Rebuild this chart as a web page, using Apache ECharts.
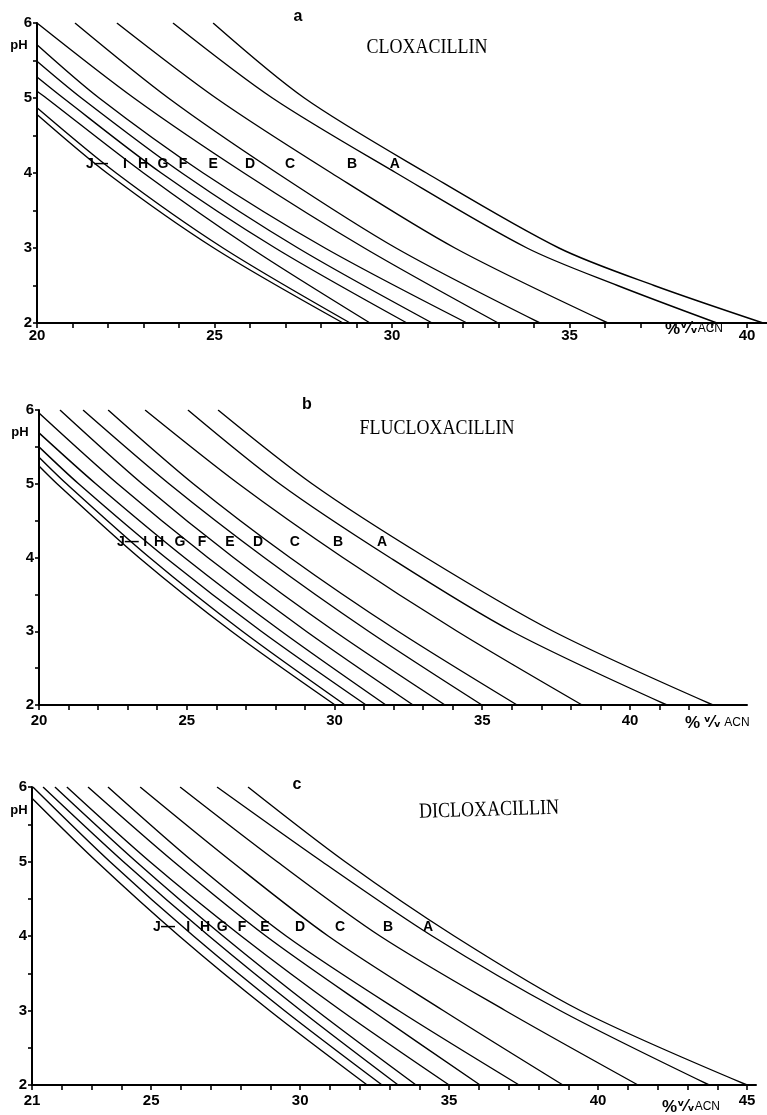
<!DOCTYPE html>
<html><head><meta charset="utf-8">
<script src="https://cdn.jsdelivr.net/npm/echarts@6/dist/echarts.min.js"></script>
<style>html,body{margin:0;padding:0;background:#fff}#c{width:767px;height:1115px}</style>
</head><body><div id="c"></div><script>
// ---------- data ----------
const curveLetters = ['J\u2014','I','H','G','F','E','D','C','B','A'];
const pHTicks = [2,2.5,3,3.5,4,4.5,5,5.5,6];
const pHLabels = [2,3,4,5,6];

// panel a : CLOXACILLIN
const cloxXTicks = [20,21,22,23,24,25,26,27,28,29,30,31,32,33,34,35,36,37,38,39,40];
const cloxXLabels = [20,25,30,35,40];
const cloxCurves = [
  [[20,4.78],[21.97,4],[24.98,3],[28.62,2]],
  [[20,4.87],[22.23,4],[25.24,3],[28.82,2]],
  [[20,5.09],[20.26,5],[23.0,4],[26.02,3],[29.38,2]],
  [[20,5.28],[20.74,5],[23.5,4],[26.71,3],[30.42,2]],
  [[20,5.49],[21.25,5],[24.08,4],[27.35,3],[31.13,2]],
  [[20,5.71],[21.75,5],[24.68,4],[28.11,3],[32.11,2]],
  [[20,6.0],[22.73,5],[25.83,4],[29.22,3],[32.99,2]],
  [[21.07,6],[23.70,5],[26.76,4],[30.11,3],[34.17,2]],
  [[22.25,6],[25.04,5],[28.29,4],[31.77,3],[36.08,2]],
  [[23.83,6],[26.63,5],[30.12,4],[33.8,3],[36.35,2.5],[39.15,2]],
  [[24.96,6],[27.53,5],[30.97,4],[34.7,3],[37.38,2.5],[40.45,2]]
];
const cloxLabelX = [21.69,22.48,22.99,23.55,24.11,24.96,26.0,27.13,28.87,30.08];
const cloxLabelPH = 4.12;

// panel b : FLUCLOXACILLIN
const fluXTicks = [20,21,22,23,24,25,26,27,28,29,30,31,32,33,34,35,36,37,38,39,40,41,42];
const fluXLabels = [20,25,30,35,40];
const fluCurves = [
  [[20,5.24],[20.61,5],[23.38,4],[26.51,3],[30.02,2]],
  [[20,5.36],[20.93,5],[23.74,4],[26.88,3],[30.36,2]],
  [[20,5.5],[21.34,5],[24.28,4],[27.52,3],[31.07,2]],
  [[20,5.69],[21.92,5],[24.92,4],[28.2,3],[31.74,2]],
  [[20,5.96],[22.66,5],[25.71,4],[29.04,3],[32.66,2]],
  [[20.71,6],[23.49,5],[26.58,4],[30.0,3],[33.74,2]],
  [[21.49,6],[24.40,5],[27.62,4],[31.15,3],[34.99,2]],
  [[22.34,6],[25.22,5],[28.49,4],[32.15,3],[36.18,2]],
  [[23.59,6],[26.75,5],[30.28,4],[34.15,3],[38.38,2]],
  [[25.04,6],[28.14,5],[31.87,4],[36.0,3],[41.25,2]],
  [[26.06,6],[29.24,5],[33.09,4],[37.4,3],[42.81,2]]
];
const fluLabelX = [23.01,23.59,24.06,24.77,25.52,26.46,27.41,28.66,30.12,31.61];
const fluLabelPH = 4.21;

// panel c : DICLOXACILLIN
const dicXTicks = [21,22,23,24,25,26,27,28,29,30,31,32,33,34,35,36,37,38,39,40,41,42,43,44,45];
const dicXLabels = [21,25,30,35,40,45];
const dicCurves = [
  [[21,5.85],[23.17,5],[25.94,4],[28.97,3],[32.25,2]],
  [[21.03,6],[23.61,5],[26.42,4],[29.47,3],[32.75,2]],
  [[21.37,6],[24.06,5],[26.94,4],[30.02,3],[33.29,2]],
  [[21.77,6],[24.49,5],[27.41,4],[30.55,3],[33.89,2]],
  [[22.17,6],[24.95,5],[28.02,4],[31.37,3],[35.0,2]],
  [[22.88,6],[25.75,5],[28.85,4],[32.4,3],[36.04,2]],
  [[23.55,6],[26.4,5],[29.53,4],[33.3,3],[37.35,2]],
  [[24.63,6],[27.7,5],[30.94,4],[34.8,3],[38.82,2]],
  [[25.97,6],[29.22,5],[32.68,4],[36.88,3],[41.34,2]],
  [[27.21,6],[30.73,5],[34.43,4],[38.72,3],[43.73,2]],
  [[28.25,6],[31.5,5],[35.17,4],[39.4,3],[45.0,2]]
];
const dicLabelX = [25.43,26.24,26.81,27.38,28.05,28.82,30.0,31.34,32.95,34.29];
const dicLabelPH = 4.12;

// ---------- chart ----------
const SANS = '"Liberation Sans", Arial, sans-serif';
const panels = [
  {grid:{left:37, top:23, width:730, height:300}, min:20, max:40.56, ticks:cloxXTicks, labels:cloxXLabels, curves:cloxCurves, lx:cloxLabelX, lph:cloxLabelPH, margin:5},
  {grid:{left:39, top:410, width:708, height:295}, min:20, max:43.96, ticks:fluXTicks, labels:fluXLabels, curves:fluCurves, lx:fluLabelX, lph:fluLabelPH, margin:8},
  {grid:{left:32, top:787, width:724, height:298}, min:21, max:45.3, ticks:dicXTicks, labels:dicXLabels, curves:dicCurves, lx:dicLabelX, lph:dicLabelPH, margin:8}
];

const grids=[], xAxes=[], yAxes=[], series=[];
panels.forEach((p,i)=>{
  grids.push(Object.assign({containLabel:false}, p.grid));
  xAxes.push({
    type:'value', gridIndex:i, min:p.min, max:p.max,
    axisLine:{show:true, onZero:false, lineStyle:{color:'#000', width:2}},
    axisTick:{show:true, length:5, lineStyle:{color:'#000', width:1.6}, customValues:p.ticks},
    axisLabel:{show:true, customValues:p.labels, color:'#000', fontFamily:SANS, fontWeight:'bold', fontSize:15, margin:p.margin},
    splitLine:{show:false}
  });
  yAxes.push({
    type:'value', gridIndex:i, min:2, max:6,
    axisLine:{show:true, onZero:false, lineStyle:{color:'#000', width:2}},
    axisTick:{show:true, length:4, lineStyle:{color:'#000', width:1.6}, customValues:pHTicks},
    axisLabel:{show:true, customValues:pHLabels, color:'#000', fontFamily:SANS, fontWeight:'bold', fontSize:15, margin:5},
    splitLine:{show:false}
  });
  p.curves.forEach(c=>{
    series.push({type:'line', xAxisIndex:i, yAxisIndex:i, data:c, smooth:0.3, showSymbol:false, silent:true,
      lineStyle:{color:'#000', width:1.4}});
  });
  series.push({type:'scatter', xAxisIndex:i, yAxisIndex:i, symbolSize:0, silent:true,
    itemStyle:{color:'#000', opacity:1},
    data:p.lx.map((x,k)=>({value:[x,p.lph], name:curveLetters[k]})),
    label:{show:true, position:'inside', formatter:d=>d.name, color:'#000', opacity:1, textBorderWidth:0, textBorderColor:'transparent',
      fontFamily:SANS, fontWeight:'bold', fontSize:14}
  });
});

function txt(x,y,text,font,extra){
  return Object.assign({type:'text', x:x, y:y, silent:true, style:{text:text, font:font, fill:'#000', textAlign:'center', textVerticalAlign:'middle'}}, extra||{});
}
const acnRich = {
  p:{fontFamily:SANS, fontSize:17, fontWeight:'bold', fill:'#000'},
  v:{fontFamily:'DejaVu Sans', fontSize:15, fontWeight:'bold', fill:'#000'},
  a:{fontFamily:SANS, fontSize:12, fill:'#000'}
};
function acn(x,y,text){
  return {type:'text', x:x, y:y, silent:true, style:{text:text, rich:acnRich, fill:'#000', textAlign:'left', textVerticalAlign:'middle'}};
}
const serif = '18px "Liberation Serif", serif';
const graphics = [
  txt(298,17,'a','bold 16px '+SANS),
  txt(427,47,'CLOXACILLIN',serif,{scaleY:1.2}),
  txt(19,45,'pH','bold 13px '+SANS),
  acn(665,329,'{p|%}{v|\u1D5B\u2044\u1D65}{a|ACN}'),
  txt(307,405,'b','bold 16px '+SANS),
  txt(437,428,'FLUCLOXACILLIN',serif,{scaleY:1.2}),
  txt(20,432,'pH','bold 13px '+SANS),
  acn(685,723,'{p|%} {v|\u1D5B\u2044\u1D65} {a|ACN}'),
  txt(297,785,'c','bold 16px '+SANS),
  txt(489,810,'DICLOXACILLIN',serif,{scaleY:1.2, rotation:0.03}),
  txt(19,810,'pH','bold 13px '+SANS),
  acn(662,1107,'{p|%}{v|\u1D5B\u2044\u1D65}{a|ACN}')
];

const chart = echarts.init(document.getElementById('c'), null, {renderer:'canvas'});
chart.setOption({
  animation:false, backgroundColor:'#fff',
  grid:grids, xAxis:xAxes, yAxis:yAxes, series:series, graphic:graphics
});
</script></body></html>
